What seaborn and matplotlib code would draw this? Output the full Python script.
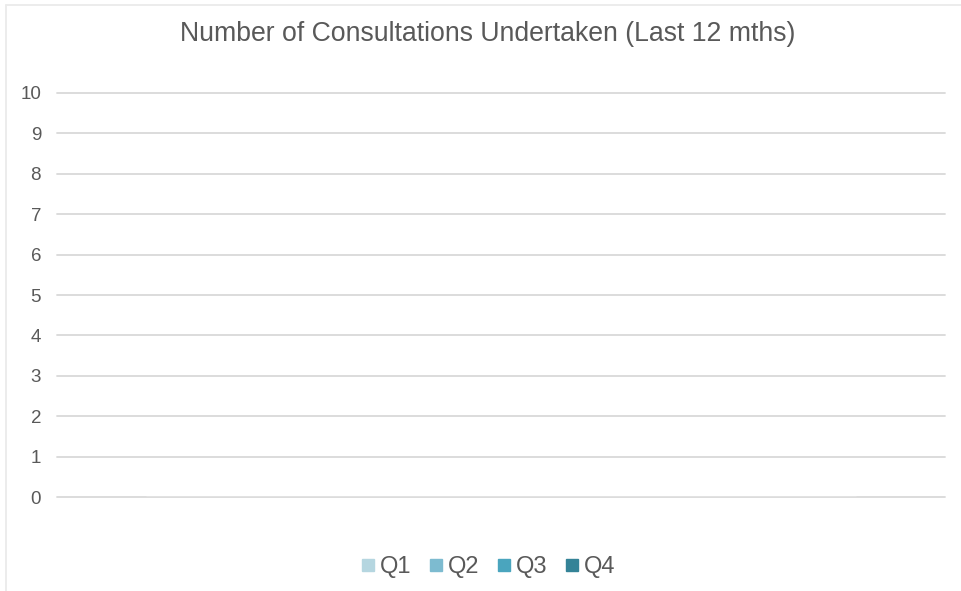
import matplotlib
matplotlib.use("Agg")
import matplotlib.pyplot as plt
import seaborn as sns
import pandas as pd
from matplotlib.lines import Line2D

# Consultations per quarter (none recorded in the last 12 months)
categories = ["Consultations"]
quarters = ["Q1", "Q2", "Q3", "Q4"]
counts = [0, 0, 0, 0]
colors = ["#B5D6E0", "#7DBBD0", "#4AA5BE", "#348397"]

df = pd.DataFrame({
    "category": categories * len(quarters),
    "quarter": quarters,
    "count": counts,
})

sns.set_theme(style="white")
plt.rcParams["font.family"] = ["Liberation Sans", "DejaVu Sans"]

fig = plt.figure(figsize=(9.62, 5.91), dpi=100)
ax = fig.add_axes([57 / 962, 1 - 497 / 591, (945 - 57) / 962, (497 - 93) / 591])

sns.barplot(data=df, x="category", y="count", hue="quarter",
            palette=colors, ax=ax, legend=False, zorder=3)

ax.set_ylim(0, 10)
ax.set_yticks(range(0, 11))
ax.yaxis.grid(True, color="#D9D9D9", linewidth=1.3, zorder=0)
for gl in ax.get_ygridlines():
    gl.set_clip_on(False)
ax.set_axisbelow(True)
for s in ax.spines.values():
    s.set_visible(False)
ax.set_xticks([])
ax.set_xlabel("")
ax.set_ylabel("")
ax.tick_params(axis="y", length=0, pad=11.5, labelsize=13.5, labelcolor="#595959")

fig.text(488 / 962, 1 - 34 / 591, "Number of Consultations Undertaken (Last 12 mths)",
         ha="center", va="center", fontsize=19.2, color="#595959")

handles = [Line2D([0], [0], marker="s", linestyle="none", markersize=8.6,
                  markerfacecolor=c, markeredgecolor=c) for c in colors]
fig.legend(handles, quarters, loc="center", bbox_to_anchor=(488 / 962, 1 - 567 / 591),
           ncol=4, frameon=False, fontsize=17, labelcolor="#595959",
           handlelength=0.6, handletextpad=0.2, columnspacing=0.75)

# chart area border
fig.add_artist(Line2D([6 / 962, 6 / 962], [0, 1 - 5 / 591], transform=fig.transFigure,
                      color="#EBEBEB", linewidth=1.3))
fig.add_artist(Line2D([6 / 962, 1], [1 - 5 / 591, 1 - 5 / 591], transform=fig.transFigure,
                      color="#EBEBEB", linewidth=1.3))

fig.savefig("out.png", dpi=100, facecolor="white")
